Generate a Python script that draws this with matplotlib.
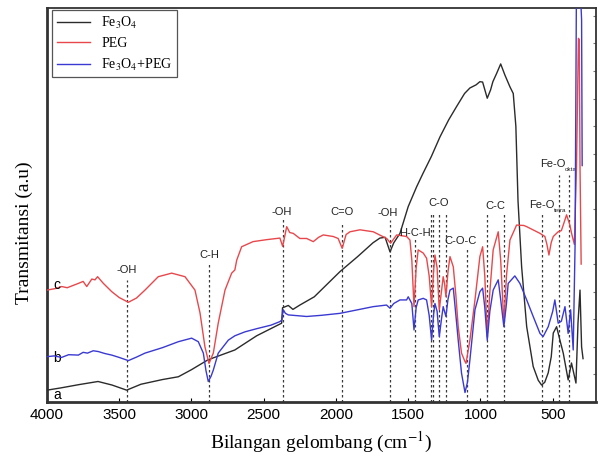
import matplotlib
matplotlib.use("Agg")
import matplotlib.pyplot as plt
from matplotlib.ticker import MultipleLocator

plt.rcParams["font.family"] = ["Liberation Sans", "DejaVu Sans"]
plt.rcParams["mathtext.fontset"] = "stix"
plt.rcParams["mathtext.default"] = "rm"

SERIF = ["Liberation Serif", "DejaVu Serif"]

# Fe3O4 (a)
wn_fe = [4000, 3900, 3780, 3647, 3550, 3449, 3350, 3200, 3091, 3000, 2886, 2700, 2549,
         2376, 2370, 2330, 2298, 2250, 2150, 1972, 1850, 1744, 1696, 1660, 1626, 1600,
         1557, 1500, 1442, 1398, 1340, 1280, 1220, 1165, 1110, 1073, 1030, 1004, 985,
         953, 930, 914, 888, 860, 831, 796, 773, 755, 740, 715, 680, 635, 600, 577, 555,
         531, 510, 496, 473, 450, 427, 393, 370, 339, 325, 311, 300, 290]
t_fe = [3.0, 3.6, 4.4, 5.2, 4.3, 3.0, 4.5, 5.7, 6.4, 8.2, 10.7, 13.2, 16.8,
        20.0, 23.9, 24.5, 23.5, 24.6, 26.7, 33.1, 36.9, 40.4, 41.6, 41.8, 38.1, 40.4,
        42.8, 49.6, 54.6, 58.0, 62.3, 67.3, 71.6, 75.0, 78.3, 79.7, 80.5, 81.3, 81.2,
        77.1, 79.2, 81.3, 83.4, 85.8, 83.0, 80.0, 78.3, 70.0, 51.0, 34.3, 19.1, 9.0, 5.5, 4.3, 5.0,
        7.4, 11.5, 17.5, 19.1, 15.7, 12.4, 5.6, 9.9, 4.8, 20.0, 28.4, 14.0, 11.0]

# PEG (c)
wn_peg = [4000, 3940, 3898, 3860, 3783, 3750, 3725, 3690, 3668, 3650, 3610, 3552, 3500,
          3437, 3380, 3322, 3230, 3137, 3045, 2976, 2941, 2907, 2879, 2849, 2815, 2768,
          2722, 2700, 2687, 2653, 2574, 2480, 2388, 2369, 2341, 2320, 2296, 2250, 2203,
          2157, 2120, 2088, 2019, 1985, 1957, 1930, 1903, 1834, 1742, 1649, 1622, 1580,
          1511, 1488, 1475, 1460, 1445, 1431, 1396, 1373, 1355, 1338, 1325, 1315, 1300,
          1285, 1270, 1258, 1248, 1239, 1225, 1211, 1188, 1170, 1154, 1131, 1110, 1100,
          1073, 1038, 1004, 985, 970, 953, 935, 912, 877, 860, 838, 820, 796, 750, 700,
          680, 588, 554, 540, 526, 510, 496, 462, 440, 427, 404, 381, 370, 350, 335,
          322, 316, 311, 303]
t_peg = [28.4, 28.8, 29.3, 29.0, 30.1, 30.6, 29.3, 31.2, 31.0, 31.8, 30.1, 28.0, 26.5,
         25.3, 26.4, 28.4, 31.8, 32.7, 31.8, 28.4, 22.6, 14.0, 9.8, 12.4, 20.0, 28.4,
         32.7, 33.5, 36.0, 39.4, 40.7, 41.2, 41.6, 39.5, 44.5, 43.0, 42.8, 41.5, 41.5,
         40.7, 41.8, 42.4, 42.0, 41.5, 39.0, 42.5, 43.2, 43.7, 43.2, 41.5, 40.3, 42.4,
         42.0, 41.1, 36.0, 24.2, 34.0, 38.6, 37.8, 36.5, 32.0, 24.2, 33.0, 37.3, 34.0,
         23.4, 28.0, 31.8, 30.0, 26.7, 33.0, 36.9, 34.3, 27.0, 19.1, 12.4, 10.5, 9.8,
         15.7, 25.9, 36.9, 39.4, 32.0, 16.6, 28.0, 38.6, 43.2, 36.0, 20.0, 32.0, 41.1, 44.9, 44.8,
         44.5, 42.8, 42.0, 40.0, 37.3, 40.5, 42.0, 43.2, 43.5, 44.9, 47.5, 44.9, 42.9, 40.0, 60.0,
         92.3, 92.0, 60.0, 35.0]

# Fe3O4+PEG (b)
wn_mix = [4000, 3950, 3900, 3850, 3783, 3750, 3720, 3680, 3645, 3600, 3552, 3500, 3437,
          3380, 3322, 3200, 3091, 2999, 2953, 2918, 2900, 2884, 2865, 2849, 2815, 2745,
          2700, 2630, 2549, 2450, 2388, 2375, 2365, 2350, 2330, 2203, 2100, 1972, 1850,
          1742, 1650, 1626, 1600, 1557, 1511, 1500, 1475, 1460, 1445, 1431, 1396, 1373,
          1355, 1338, 1325, 1315, 1300, 1285, 1270, 1258, 1239, 1225, 1211, 1188, 1170,
          1154, 1131, 1107, 1090, 1073, 1038, 1004, 985, 970, 953, 935, 912, 877, 860,
          838, 820, 808, 762, 727, 680, 635, 588, 566, 531, 500, 485, 462, 440, 415, 393,
          376, 358, 345, 335, 315, 300, 296]
t_mix = [11.5, 11.7, 11.3, 12.0, 11.9, 12.6, 12.4, 13.0, 12.8, 12.3, 11.9, 11.3, 10.5,
         11.4, 12.4, 13.8, 15.3, 16.2, 15.3, 12.4, 8.0, 5.2, 6.5, 8.1, 12.4, 15.7,
         16.8, 17.8, 18.6, 19.5, 20.4, 20.8, 23.4, 22.5, 22.1, 21.7, 22.0, 22.5, 23.4,
         24.2, 24.6, 23.8, 25.0, 25.9, 25.9, 26.7, 25.0, 18.3, 24.0, 25.9, 26.3, 25.9,
         22.0, 15.7, 22.0, 25.0, 23.0, 16.6, 21.0, 24.2, 21.7, 26.0, 28.4, 28.9, 22.0,
         15.7, 7.3, 2.4, 5.0, 10.7, 23.4, 28.0, 28.9, 24.0, 15.7, 23.0, 28.4, 31.0, 26.0,
         19.1, 25.0, 30.1, 32.0, 30.1, 25.9, 21.7, 17.4, 16.6, 19.1, 23.0, 25.9, 20.0, 20.5, 24.2, 17.4,
         23.4, 13.2, 40.0, 110.0, 110.0, 97.0, 60.0]

# band markers: wavenumber, top of dotted line
band_wn = [3446, 2879, 2367, 1956, 1626, 1453, 1343, 1327, 1285, 1241, 1096, 953, 837, 572, 455, 385]
band_top = [31.0, 35.5, 46.7, 45.7, 46.2, 41.6, 48.2, 48.2, 48.0, 48.0, 39.0, 48.0, 48.0, 48.0, 57.6, 57.6]

# band labels: text, wavenumber, height
band_labels = ["-OH", "C-H", "-OH", "C=O", "-OH", "H-C-H", "C-O", "C-O-C", "C-C"]
label_wn = [3446, 2879, 2373, 1955, 1645, 1453, 1290, 1140, 895]
label_t = [33.5, 37.3, 48.3, 48.3, 47.9, 43.0, 50.5, 40.9, 49.7]

fig = plt.figure(figsize=(6.02, 4.57), dpi=100)
ax = fig.add_axes([0.0781, 0.1204, 0.912, 0.8621])

ax.vlines(band_wn, 0, band_top, colors="#3a3a3a", linestyles=(0, (2, 2)), linewidth=0.9, zorder=1)

ax.plot(wn_fe, t_fe, color="#2b2b2b", lw=1.0, label=r"Fe$_3$O$_4$", zorder=3)
ax.plot(wn_peg, t_peg, color="#e8484c", lw=1.0, label="PEG", zorder=3)
ax.plot(wn_mix, t_mix, color="#3a3ad2", lw=1.0, label=r"Fe$_3$O$_4$+PEG", zorder=4)

for txt, x, y in zip(band_labels, label_wn, label_t):
    ax.text(x, y, txt, fontsize=8, ha="center", va="center", color="#222")

# Fe-O labels with small subscripts
ax.text(660, 50.0, "Fe-O", fontsize=8, ha="left", va="center", color="#222")
ax.text(490, 48.6, "tetra", fontsize=4.5, ha="left", va="center", color="#222")
ax.text(590, 60.4, "Fe-O", fontsize=8, ha="left", va="center", color="#222")
ax.text(420, 59.0, "okta", fontsize=4.5, ha="left", va="center", color="#222")

ax.text(3931, 29.7, "c", fontsize=10, ha="center", va="center")
ax.text(3931, 11.2, "b", fontsize=10, ha="center", va="center")
ax.text(3931, 1.8, "a", fontsize=10, ha="center", va="center")

ax.set_xlim(4000, 200)
ax.set_ylim(0, 100)
ax.xaxis.set_major_locator(MultipleLocator(500))
ax.yaxis.set_major_locator(MultipleLocator(7))
ax.tick_params(axis="x", direction="in", length=3, labelsize=11, pad=4)
ax.tick_params(axis="y", direction="in", length=2.5, left=False, right=True, labelleft=False,
               color="#777777")

for side in ["left", "bottom"]:
    ax.spines[side].set_linewidth(2.0)
for side in ["top", "right"]:
    ax.spines[side].set_linewidth(1.3)
for sp in ax.spines.values():
    sp.set_color("#333333")

ax.set_xlabel(r"Bilangan gelombang (cm$^{-1}$)", family=SERIF, fontsize=14, labelpad=6)
ax.set_ylabel("Transmitansi (a.u)", family=SERIF, fontsize=14)
ax.yaxis.set_label_coords(-0.026, 0.43)

leg = ax.legend(loc="upper left", bbox_to_anchor=(0.009, 0.995), borderaxespad=0,
                prop={"family": SERIF, "size": 10}, handlelength=2.4, labelspacing=0.45,
                fancybox=False, edgecolor="#555555", framealpha=1, borderpad=0.35)
leg.get_frame().set_linewidth(0.9)

fig.savefig("out.png", dpi=100)
